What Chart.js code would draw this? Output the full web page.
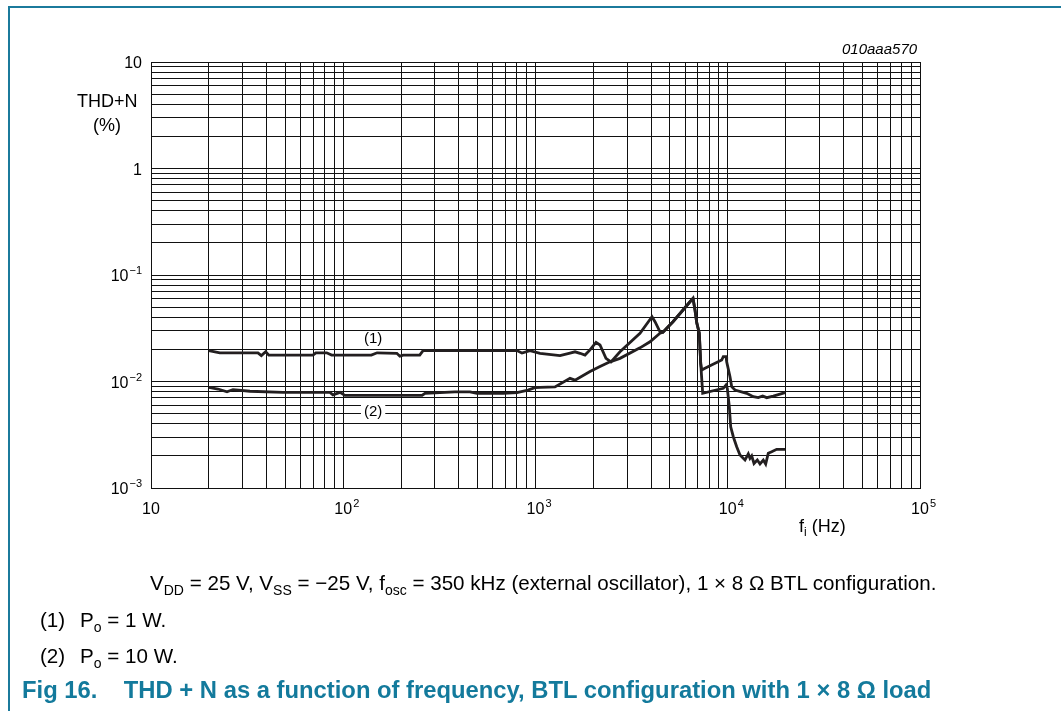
<!DOCTYPE html>
<html>
<head>
<meta charset="utf-8">
<script src="https://cdn.jsdelivr.net/npm/chart.js@4/dist/chart.umd.min.js"></script>
<style>
html,body{margin:0;padding:0;background:#fff;}
body{width:1061px;height:711px;position:relative;overflow:hidden;font-family:"Liberation Sans",Arial,sans-serif;color:#000;}
#c{position:absolute;left:0;top:0;}
.t{position:absolute;white-space:nowrap;font-size:18px;line-height:18px;}
.sub{font-size:12px;position:relative;top:4px;}
.cap{position:absolute;white-space:nowrap;font-size:20.6px;line-height:20px;}
.cap .sub{font-size:14px;top:5px;}
.vline{position:absolute;left:8px;top:6px;width:2px;height:705px;background:#1b7a9c;}
.hline{position:absolute;left:8px;top:6px;width:1053px;height:2px;background:#1b7a9c;}
.title{position:absolute;white-space:nowrap;font-weight:bold;font-size:23.8px;line-height:24px;color:#137a9c;}
</style>
</head>
<body>
<div class="vline"></div>
<div class="hline"></div>
<canvas id="c" width="1061" height="711"></canvas>

<div class="t" style="left:77px;top:92px;">THD+N</div>
<div class="t" style="left:93px;top:116px;">(%)</div>
<div class="t" style="left:799px;top:517px;">f<span class="sub">i</span> (Hz)</div>
<div class="t" style="left:842px;top:41px;font-style:italic;font-size:15px;line-height:15px;">010aaa570</div>

<div class="cap" style="left:150px;top:573px;">V<span class="sub">DD</span> = 25 V, V<span class="sub">SS</span> = −25 V, f<span class="sub">osc</span> = 350 kHz (external oscillator), 1 × 8 Ω BTL configuration.</div>
<div class="cap" style="left:40px;top:610px;">(1)</div>
<div class="cap" style="left:80px;top:610px;">P<span class="sub">o</span> = 1 W.</div>
<div class="cap" style="left:40px;top:646px;">(2)</div>
<div class="cap" style="left:80px;top:646px;">P<span class="sub">o</span> = 10 W.</div>
<div class="title" style="left:22px;top:678px;">Fig 16.&nbsp;&nbsp;&nbsp;&nbsp;THD + N as a function of frequency, BTL configuration with 1 × 8 Ω load</div>

<script>
// ---- data (frequency in Hz, THD+N in %) ----
const freq1 = [20, 22.8, 36, 37.5, 39.5, 41, 69.6, 72, 82, 87, 140, 150, 190, 197, 205, 250, 260, 800, 850, 936,
  1056, 1341, 1512, 1605, 1704, 1809, 1921, 2064, 2165, 2326, 2470, 2751, 3496, 4036, 4184, 4442, 4600, 5190, 5852, 6363,
  6596, 6755, 6896, 7112, 7233, 7320, 7614, 9301, 9481, 9793, 9874, 10273, 10484, 10907, 12545, 13580, 14418, 15196, 15940, 17252, 19850];
const thd1 = [0.0195, 0.0186, 0.0186, 0.0175, 0.0190, 0.0177, 0.0177, 0.0186, 0.0186, 0.0177, 0.0177, 0.0186, 0.0184, 0.0173, 0.0177, 0.0177, 0.0195, 0.0195, 0.0185, 0.0195,
  0.0184, 0.0175, 0.0185, 0.0190, 0.0184, 0.0177, 0.0198, 0.0233, 0.0220, 0.0165, 0.0153, 0.0190, 0.0284, 0.0406, 0.0364, 0.0293, 0.0290, 0.0364, 0.0469, 0.0561,
  0.0604, 0.0469, 0.0357, 0.0284, 0.0148, 0.0128, 0.0133, 0.0159, 0.0171, 0.0171, 0.0153, 0.0111, 0.00894, 0.00832, 0.00775, 0.0072, 0.00705, 0.0073, 0.00705, 0.0073, 0.00785];

const freq2 = [20, 22.3, 24.85, 26.7, 32.7, 48.6, 85.3, 88.4, 96.2, 102, 257, 266, 381, 456, 496, 678, 801, 914, 1000, 1056,
  1263, 1512, 1605, 1921, 2165, 2440, 2751, 3496, 3941, 4442, 4600, 5190, 5852, 6363, 6596, 6755, 6896, 7112, 7233, 7408,
  9481, 9793, 9947, 10187, 10359, 10688, 11130, 11578, 12293, 12790, 13052, 13322, 13695, 14247, 14712, 15305, 15750, 16248, 16924, 17968, 19850];
const thd2 = [0.0088, 0.0085, 0.0080, 0.0084, 0.0081, 0.0079, 0.0079, 0.0075, 0.0079, 0.0074, 0.0074, 0.00775, 0.0080, 0.0080, 0.00775, 0.00775, 0.00785, 0.0083, 0.00878, 0.0088,
  0.0089, 0.0107, 0.0103, 0.0124, 0.0138, 0.0153, 0.0165, 0.0207, 0.0236, 0.0284, 0.0290, 0.0364, 0.0469, 0.0561, 0.0604, 0.0469, 0.0357, 0.0284, 0.0148, 0.00775,
  0.00863, 0.00927, 0.00863, 0.0058, 0.00376, 0.00303, 0.00244, 0.00204, 0.00183, 0.00209, 0.0019, 0.0020, 0.0017, 0.00183, 0.00168, 0.00183, 0.00168, 0.00212, 0.00219, 0.00231, 0.00231];

const seriesNames = ['(1)', '(2)'];
const seriesLabelPos = [[143, 0.0250], [143, 0.00518]];

const xTickValues = [10, 100, 1000, 10000, 100000];
const xTickLabels = [['10', ''], ['10', '2'], ['10', '3'], ['10', '4'], ['10', '5']];
const yTickValues = [0.001, 0.01, 0.1, 1, 10];
const yTickLabels = [['10', '−3'], ['10', '−2'], ['10', '−1'], ['1', ''], ['10', '']];

// ---- helpers ----
function logGrid(minExp, maxExp) {
  const out = [];
  for (let e = minExp; e < maxExp; e++) {
    for (let m = 1; m <= 9; m++) out.push({ value: Number((m * Math.pow(10, e)).toPrecision(3)) });
  }
  out.push({ value: Math.pow(10, maxExp) });
  return out;
}
const toXY = (xs, ys) => xs.map((x, i) => ({ x: x, y: ys[i] }));
const FONT = '"Liberation Sans", Arial, sans-serif';

const tickLabelPlugin = {
  id: 'tickLabels',
  afterDraw(chart) {
    const ctx = chart.ctx, xs = chart.scales.x, ys = chart.scales.y, ca = chart.chartArea;
    ctx.save();
    ctx.fillStyle = '#000';
    ctx.textBaseline = 'alphabetic';
    xTickValues.forEach((v, i) => {
      const [b, e] = xTickLabels[i];
      const px = xs.getPixelForValue(v);
      ctx.font = '16px ' + FONT;
      const bw = ctx.measureText(b).width;
      ctx.textAlign = 'left';
      const x0 = px - bw / 2;
      ctx.fillText(b, x0, ca.bottom + 26);
      if (e) {
        ctx.font = '11px ' + FONT;
        ctx.fillText(e, x0 + bw + 1, ca.bottom + 19);
      }
    });
    yTickValues.forEach((v, i) => {
      const [b, e] = yTickLabels[i];
      const py = ys.getPixelForValue(v);
      const right = ca.left - 9;
      ctx.textAlign = 'left';
      ctx.font = '11px ' + FONT;
      const ew = e ? ctx.measureText(e).width + 1 : 0;
      ctx.font = '16px ' + FONT;
      const bw = ctx.measureText(b).width;
      ctx.fillText(b, right - ew - bw, py + 6);
      if (e) {
        ctx.font = '11px ' + FONT;
        ctx.fillText(e, right - ew + 1, py - 1);
      }
    });
    ctx.restore();
  }
};

const seriesLabelPlugin = {
  id: 'seriesLabels',
  beforeDatasetsDraw(chart) {
    const ctx = chart.ctx, xs = chart.scales.x, ys = chart.scales.y;
    ctx.save();
    ctx.font = '15px ' + FONT;
    ctx.textAlign = 'center';
    ctx.textBaseline = 'middle';
    seriesNames.forEach((n, i) => {
      const px = xs.getPixelForValue(seriesLabelPos[i][0]);
      const py = ys.getPixelForValue(seriesLabelPos[i][1]);
      const w = ctx.measureText(n).width;
      ctx.fillStyle = '#fff';
      ctx.fillRect(px - w / 2 - 3, py - 8, w + 6, 16);
      ctx.fillStyle = '#000';
      ctx.fillText(n, px, py);
    });
    ctx.restore();
  }
};

new Chart(document.getElementById('c'), {
  type: 'line',
  data: {
    datasets: [
      { label: seriesNames[0], data: toXY(freq1, thd1), borderColor: '#231f20', borderWidth: 2.8, pointRadius: 0, tension: 0, fill: false },
      { label: seriesNames[1], data: toXY(freq2, thd2), borderColor: '#231f20', borderWidth: 2.8, pointRadius: 0, tension: 0, fill: false }
    ]
  },
  options: {
    responsive: false,
    animation: false,
    devicePixelRatio: 1,
    layout: { padding: { left: 151, top: 62, right: 141, bottom: 223 } },
    plugins: { legend: { display: false }, tooltip: { enabled: false }, title: { display: false } },
    scales: {
      x: {
        type: 'logarithmic', min: 10, max: 100000,
        afterBuildTicks: (s) => { s.ticks = logGrid(1, 5); },
        afterFit: (s) => { s.height = 0; },
        ticks: { display: false, autoSkip: false },
        grid: { color: '#111', lineWidth: 1, drawTicks: false, tickLength: 0 },
        border: { display: true, color: '#111', width: 1 }
      },
      y: {
        type: 'logarithmic', min: 0.001, max: 10,
        afterBuildTicks: (s) => { s.ticks = logGrid(-3, 1); },
        afterFit: (s) => { s.width = 0; },
        ticks: { display: false, autoSkip: false },
        grid: { color: '#111', lineWidth: 1, drawTicks: false, tickLength: 0 },
        border: { display: true, color: '#111', width: 1 }
      }
    }
  },
  plugins: [seriesLabelPlugin, tickLabelPlugin]
});
</script>
</body>
</html>
